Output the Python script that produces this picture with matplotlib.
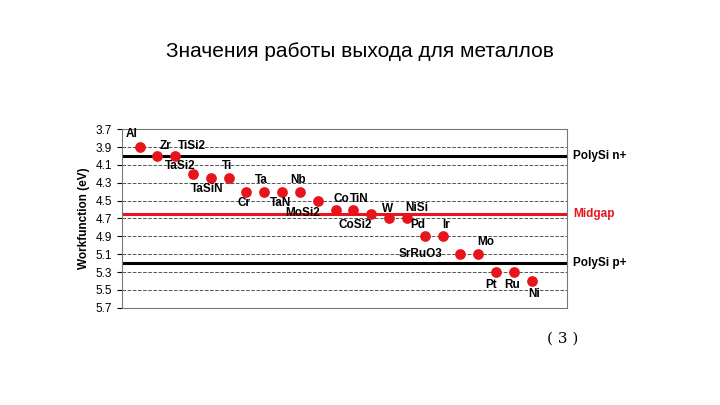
import matplotlib.pyplot as plt

plt.rcParams['font.family'] = ['Liberation Sans', 'DejaVu Sans']

metals = ['Al', 'Zr', 'TiSi2', 'TaSi2', 'TaSiN', 'Ti', 'Cr', 'Ta', 'TaN', 'Nb',
          'MoSi2', 'Co', 'TiN', 'CoSi2', 'W', 'NiSi', 'Pd', 'Ir', 'SrRuO3', 'Mo',
          'Pt', 'Ru', 'Ni']
workfunc = [3.9, 4.0, 4.0, 4.2, 4.25, 4.25, 4.4, 4.4, 4.4, 4.4,
            4.5, 4.6, 4.6, 4.65, 4.7, 4.7, 4.9, 4.9, 5.1, 5.1,
            5.3, 5.3, 5.4]
# label offsets in pixels (dx, dy up)
offs = [(-8, 13), (8, 10), (16, 10), (-12, 8), (-4, -10), (-2, 12), (-2, -11), (-3, 11),
        (-2, -11), (-2, 11), (-15, -12), (6, 10), (6, 10), (-15, -11), (-1, 9), (9, 10),
        (-7, 11), (3, 11), (-38, 0), (7, 12), (-5, -12), (-2, -12), (2, -12)]
ref_levels = [4.0, 4.65, 5.2]
ref_names = ['PolySi n+', 'Midgap', 'PolySi p+']
ref_colors = ['black', '#e8141c', 'black']

fig = plt.figure(figsize=(7.2, 4.05), dpi=100)
fig.text(0.5, 0.86, 'Значения работы выхода для металлов', ha='center', fontsize=15)
fig.text(0.782, 0.153, '( 3 )', ha='center', fontsize=11, family='DejaVu Serif')

ax = fig.add_axes([0.169, 0.24, 0.619, 0.441])
x = list(range(1, len(metals) + 1))
for lv, nm, c in zip(ref_levels, ref_names, ref_colors):
    ax.axhline(lv, color=c, lw=2.2, zorder=2)
    ax.annotate(nm, (1, lv), xycoords=('axes fraction', 'data'), xytext=(4, 0),
                textcoords='offset points', va='center', fontsize=8.5, fontweight='bold', color=c)
ax.scatter(x, workfunc, s=45, color='#e8141c', zorder=3)
for xi, yi, m, (dx, dy) in zip(x, workfunc, metals, offs):
    ax.annotate(m, (xi, yi), xytext=(dx * 0.75, dy * 0.75), textcoords='offset points',
                ha='center', va='center', fontsize=8.5, fontweight='bold', zorder=4)

ax.set_xlim(0, 25)
ax.set_ylim(5.7, 3.7)
ax.set_yticks([3.7 + 0.2 * i for i in range(11)])
ax.set_yticklabels(['%.1f' % (3.7 + 0.2 * i) for i in range(11)], fontsize=8.5)
ax.set_xticks([])
ax.yaxis.grid(True, ls='--', color='#555555', lw=0.7)
ax.set_ylabel('Workfunction (eV)', fontsize=8.5, fontweight='bold')
for s in ax.spines.values():
    s.set_color('#777777')

fig.savefig('out.png', dpi=100)
